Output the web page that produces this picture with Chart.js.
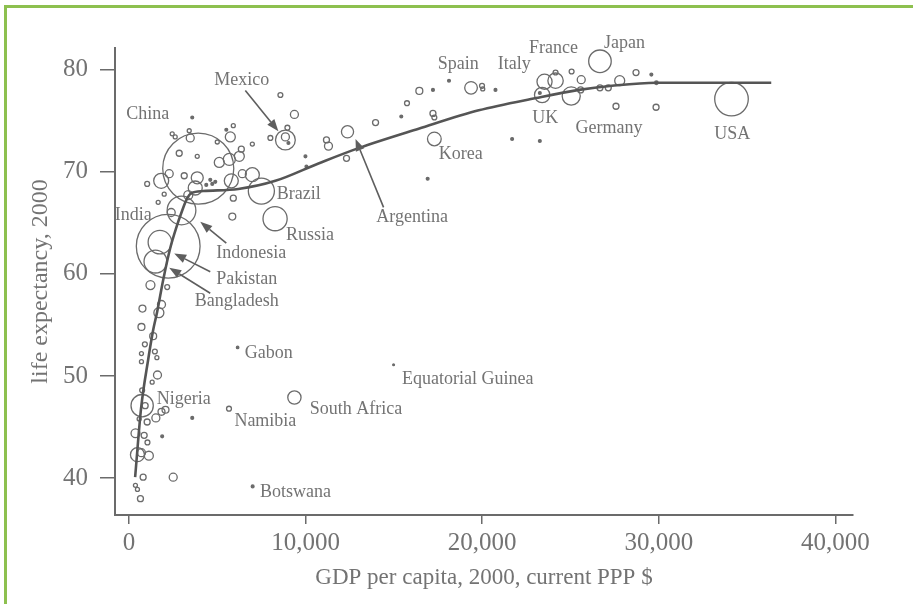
<!DOCTYPE html>
<html><head><meta charset="utf-8">
<script src="https://cdn.jsdelivr.net/npm/chart.js@4.4.0/dist/chart.umd.min.js"></script>
<style>
html,body{margin:0;padding:0;background:#fff;}
#wrap{position:relative;width:913px;height:604px;overflow:hidden;}
#frame{position:absolute;left:4px;top:5px;width:920px;height:610px;border-top:3px solid #8dc04f;border-left:3px solid #8dc04f;pointer-events:none;}
canvas{display:block;}
</style></head><body>
<div id="wrap"><canvas id="c" width="913" height="604" style="width:913px;height:604px"></canvas><div id="frame"></div></div>
<script>
// Country bubbles: GDP per capita (PPP $), life expectancy (years), population (millions)
const gdp = [3575,9362,8568,2440,2610,3404,3461,5504,5901,5731,4993,6979,8000,8965,8851,8851,9022,9986,2837,3858,
  6355,6241,5674,5107,2270,1816,3121,3858,4596,4880,4709,5787,6412,6979,7490,1021,1986,1645,5901,3348,
  4369,5844,2383,3745,3915,12369,11178,11291,13958,12312,10043,15738,15415,16438,17209,18117,19366,19988,20029,20750,
  17209,17288,17288,16909,21692,23262,23262,23394,23528,24153,24153,25062,25607,25040,25573,26668,26668,27139,27786,27576,
  28710,29579,29863,29846,34118,8267,2213,1742,1492,2967,1208,2156,755,1833,1685,698,1362,891,698,698,
  1458,1572,1606,1305,6145,14979,738,738,908,1515,1833,2060,567,3575,5657,9362,361,851,1038,1872,
  471,698,1118,794,2497,357,471,641,6996,1021];
const lifeExp = [75.3,75.6,77.5,73.7,73.4,74.0,73.3,74.1,74.5,73.4,72.9,72.7,73.3,74.3,73.1,73.4,72.8,71.5,71.8,71.5,
  72.2,71.5,71.2,70.9,69.8,69.1,69.6,69.4,69.2,69.0,68.8,69.1,69.8,69.7,68.1,68.8,67.8,67.0,67.4,67.7,
  68.7,65.6,66.0,68.4,70.3,73.9,73.1,72.5,74.8,71.3,70.5,76.7,75.4,77.9,78.0,78.9,78.2,78.4,78.1,78.0,
  75.7,75.3,73.2,69.3,73.2,73.0,77.7,77.5,78.8,78.9,79.7,79.8,79.0,77.4,78.0,80.8,78.2,78.2,78.9,76.4,
  79.7,79.5,78.7,76.3,77.1,65.4,62.7,63.1,61.2,66.2,58.9,58.7,56.6,57.0,56.2,54.8,53.9,53.1,52.2,51.4,
  52.4,51.8,50.1,49.4,52.8,51.1,48.6,47.1,47.1,45.9,46.5,46.7,45.8,45.9,46.8,47.9,44.4,44.2,43.5,44.1,
  42.3,42.5,42.2,40.1,40.1,39.3,38.9,38.0,39.2,45.5];
const population = [2,16,6,4,4,4,16,2,4,25,4,4,6,6,98,16,2,2,9,4,
  9,25,36,25,16,56,9,36,2,2,2,49,16,49,170,6,4,4,9,20,
  2,12,16,49,1262,37,9,16,9,9,2,6,2,12,2,2,40,6,4,2,
  9,6,47,2,2,2,2,59,57,59,6,6,16,82,9,127,9,9,25,9,
  9,2,3,9,282,146,1016,138,131,206,20,6,12,16,25,12,12,6,4,4,
  6,4,16,4,1.5,0.8,6,124,9,16,12,12,4,2,6,44,20,9,6,2,
  49,16,20,9,16,4,4,9,2,9];

// Fitted curve
const curveGdp  = [340,681,1078,1362,1589,1929,2326,2667,3007,3291,3518,4199,6185,8284,10724,12993,16398,19802,23036,25476,27347,29843,33418,36369];
const curveLife = [40.1,46.9,51.6,54.5,56.3,59.4,62.5,64.5,66.2,67.4,67.9,68.1,68.3,69.1,70.8,72.3,74.2,76.0,77.2,78.0,78.4,78.7,78.7,78.7];

// Country labels (text centre, data units)
const labelNames = ["China","Mexico","Spain","Italy","France","Japan","UK","Germany","USA","Korea","Brazil","Russia","Argentina","India","Indonesia","Pakistan","Bangladesh","Gabon","Equatorial Guinea","Nigeria","South Africa","Namibia","Botswana"];
const labelGdp  = [1055,6383,18639,21817,24030,28058,23576,27178,34157,18781,9606,10242,16029,227,6922,6667,6100,7915,19178,3092,12852,7717,9419];
const labelLife = [75.6,78.9,80.5,80.5,82.1,82.6,75.2,74.2,73.7,71.7,67.8,63.8,65.5,65.7,62.0,59.5,57.3,52.2,49.7,47.7,46.7,45.6,38.6];

// Arrows: tail -> head (data units)
const arrowNames = ["Mexico","Argentina","Indonesia","Pakistan","Bangladesh"];
const arrowTailGdp  = [6582,14412,5504,4596,4596];
const arrowTailLife = [77.95,66.5,63.0,60.2,58.1];
const arrowHeadGdp  = [8454,12823,4029,2553,2270];
const arrowHeadLife = [73.95,73.2,65.1,62.0,60.6];

const xTickValues = [0,10000,20000,30000,40000];
const yTickValues = [40,50,60,70,80];
const xTitle = "GDP per capita, 2000, current PPP $";
const yTitle = "life expectancy, 2000";

const INK = '#6b6b6b';
const TXT = '#737373';
const FONT = 'Liberation Serif';

const bubbles = gdp.map((g,i)=>({x:g, y:lifeExp[i], r:Math.sqrt(population[i])}));
const curve = curveGdp.map((g,i)=>({x:g, y:curveLife[i]}));

const annotations = {
  id:'annotations',
  afterDatasetsDraw(chart){
    const {ctx, scales:{x,y}} = chart;
    ctx.save();
    // arrows
    ctx.strokeStyle = '#5e5e5e'; ctx.fillStyle = '#5e5e5e'; ctx.lineWidth = 1.6;
    arrowNames.forEach((n,i)=>{
      const x1=x.getPixelForValue(arrowTailGdp[i]), y1=y.getPixelForValue(arrowTailLife[i]);
      const x2=x.getPixelForValue(arrowHeadGdp[i]), y2=y.getPixelForValue(arrowHeadLife[i]);
      const a=Math.atan2(y2-y1,x2-x1), L=12, W=4.5;
      const bx=x2-L*Math.cos(a), by=y2-L*Math.sin(a);
      ctx.beginPath(); ctx.moveTo(x1,y1); ctx.lineTo(bx,by); ctx.stroke();
      ctx.beginPath(); ctx.moveTo(x2,y2);
      ctx.lineTo(bx+W*Math.sin(a), by-W*Math.cos(a));
      ctx.lineTo(bx-W*Math.sin(a), by+W*Math.cos(a));
      ctx.closePath(); ctx.fill();
    });
    // labels
    ctx.fillStyle = TXT; ctx.font = '18px "'+FONT+'"';
    ctx.textAlign='center'; ctx.textBaseline='middle';
    labelNames.forEach((n,i)=>{
      ctx.fillText(n, x.getPixelForValue(labelGdp[i]), y.getPixelForValue(labelLife[i]));
    });
    ctx.restore();
  }
};

new Chart(document.getElementById('c'), {
  data:{
    datasets:[
      {type:'bubble', data:bubbles, borderColor:INK, borderWidth:1.3,
       backgroundColor:(c)=> (c.raw && c.raw.r < 2) ? INK : 'rgba(0,0,0,0)', clip:false, order:2},
      {type:'line', data:curve, borderColor:'#555', borderWidth:2.6, pointRadius:0,
       cubicInterpolationMode:'monotone', fill:false, order:1}
    ]
  },
  options:{
    responsive:false, animation:false, events:[],
    layout:{padding:{top:48,right:60,left:0,bottom:0}},
    plugins:{legend:{display:false}, tooltip:{enabled:false}, title:{display:false}},
    scales:{
      x:{type:'linear', min:-800, max:41000,
        afterBuildTicks:s=>{s.ticks = xTickValues.map(v=>({value:v}));},
        afterFit:s=>{s.height = 89;},
        grid:{display:true, drawOnChartArea:false, drawTicks:true, tickLength:9, color:INK, lineWidth:1.5},
        border:{display:true, color:INK, width:2},
        ticks:{color:TXT, font:{family:FONT, size:25}, padding:4, maxRotation:0,
          callback:v=>v.toLocaleString('en-US')},
        title:{display:true, text:xTitle, color:TXT, font:{family:FONT, size:23}, padding:{top:0,bottom:12}}
      },
      y:{type:'linear', min:36.4, max:82.1,
        afterBuildTicks:s=>{s.ticks = yTickValues.map(v=>({value:v}));},
        afterFit:s=>{s.width = 115;},
        grid:{display:true, drawOnChartArea:false, drawTicks:true, tickLength:15, color:INK, lineWidth:1.5},
        border:{display:true, color:INK, width:2},
        ticks:{color:TXT, font:{family:FONT, size:25}, padding:12},
        title:{display:true, text:yTitle, color:TXT, font:{family:FONT, size:24}, padding:{top:26,bottom:0}}
      }
    }
  },
  plugins:[annotations]
});
</script>
</body></html>
